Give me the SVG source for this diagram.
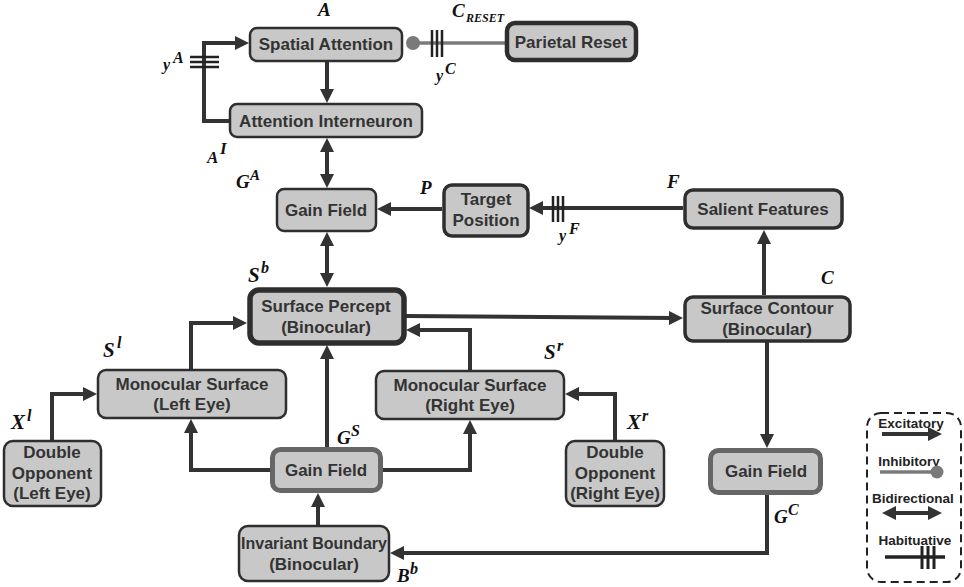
<svg xmlns="http://www.w3.org/2000/svg" width="964" height="587" viewBox="0 0 964 587">
<defs>
<marker id="ah" viewBox="0 0 14 14" refX="6" refY="7" markerWidth="14" markerHeight="14" markerUnits="userSpaceOnUse" orient="auto-start-reverse">
<path d="M0,0 L14,7 L0,14 z" fill="#333"/>
</marker>
<style>
.box{fill:#c8c8c8;stroke:#2e2e2e;stroke-width:2.5}
.b3{stroke-width:3.5}
.b4{stroke-width:4.5}
.b5{stroke-width:5.5}
.gf{fill:#c8c8c8;stroke:#666;stroke-width:5}
.t{font-family:"Liberation Sans",Arial,sans-serif;font-weight:bold;font-size:17px;fill:#333;text-anchor:middle}
.lt{font-family:"Liberation Sans",Arial,sans-serif;font-weight:bold;font-size:13.5px;fill:#222;text-anchor:middle}
.lab{font-family:"Liberation Serif","Times New Roman",serif;font-weight:bold;font-style:italic;font-size:19px;fill:#111}
.c{fill:none;stroke:#333;stroke-width:4}
.ar{marker-end:url(#ah)}
.bi{marker-start:url(#ah);marker-end:url(#ah)}
.hb{stroke:#222;stroke-width:2.5}
.inh{stroke:#7a7a7a;stroke-width:3.5;fill:none}
</style>
</defs>
<rect width="964" height="587" fill="#fff"/>

<g id="connectors">
<path class="c ar" d="M327,62 L327,95"/>
<path class="c ar" d="M229,121 L204,121 L204,43 L241,43"/>
<path class="hb" d="M190,57 L219,57 M190,62 L219,62 M190,67 L219,67"/>
<path class="inh" d="M505,43 L413,43"/>
<circle cx="413" cy="43" r="7" fill="#7a7a7a"/>
<path class="hb" d="M432,30 L432,57 M437,30 L437,57 M442,30 L442,57"/>
<path class="c bi" d="M327,146 L327,180"/>
<path class="c ar" d="M442,209 L385,209"/>
<path class="c ar" d="M683,208 L537,208"/>
<path class="hb" d="M553,196 L553,222 M558,196 L558,222 M563,196 L563,222"/>
<path class="c ar" d="M764,295 L764,238"/>
<path class="c bi" d="M327,240 L327,279"/>
<path class="c ar" d="M406,316 L675,318"/>
<path class="c ar" d="M191,369 L191,323 L239,323"/>
<path class="c ar" d="M470,370 L470,330 L414,330"/>
<path class="c ar" d="M52,440 L52,394 L89,394"/>
<path class="c ar" d="M615,440 L615,394 L573,394"/>
<path class="c ar" d="M270,470 L191,470 L191,427"/>
<path class="c ar" d="M383,470 L470,470 L470,428"/>
<path class="c ar" d="M327,447 L327,353"/>
<path class="c ar" d="M318,525 L318,501"/>
<path class="c ar" d="M767,342 L767,440"/>
<path class="c ar" d="M767,495 L767,553 L398,553"/>
</g>

<g id="spatial-attention">
<rect class="box" x="250" y="28" width="152" height="33" rx="7"/>
<text class="t" x="326" y="50">Spatial Attention</text>
</g>
<g id="parietal-reset">
<rect class="box b4" x="507" y="23" width="129" height="37" rx="8"/>
<text class="t" x="571" y="48">Parietal Reset</text>
</g>
<g id="attention-interneuron">
<rect class="box" x="230" y="104" width="192" height="33" rx="7"/>
<text class="t" x="326" y="127">Attention Interneuron</text>
</g>
<g id="gain-field-a">
<rect class="box" x="277" y="189" width="99" height="42" rx="7"/>
<text class="t" x="326" y="216">Gain Field</text>
</g>
<g id="target-position">
<rect class="box b3" x="444" y="185" width="84" height="51" rx="8"/>
<text class="t" x="486" y="205">Target</text>
<text class="t" x="486" y="226">Position</text>
</g>
<g id="salient-features">
<rect class="box b3" x="685" y="190" width="157" height="38" rx="8"/>
<text class="t" x="763" y="215">Salient Features</text>
</g>
<g id="surface-percept">
<rect class="box b5" x="250" y="290" width="154" height="53" rx="9"/>
<text class="t" x="326" y="312">Surface Percept</text>
<text class="t" x="326" y="333">(Binocular)</text>
</g>
<g id="surface-contour">
<rect class="box b3" x="685" y="297" width="165" height="44" rx="8"/>
<text class="t" x="767" y="314">Surface Contour</text>
<text class="t" x="767" y="335">(Binocular)</text>
</g>
<g id="monocular-left">
<rect class="box" x="98" y="370" width="188" height="48" rx="8"/>
<text class="t" x="192" y="390">Monocular Surface</text>
<text class="t" x="192" y="410">(Left Eye)</text>
</g>
<g id="monocular-right">
<rect class="box" x="376" y="371" width="188" height="48" rx="8"/>
<text class="t" x="470" y="391">Monocular Surface</text>
<text class="t" x="470" y="411">(Right Eye)</text>
</g>
<g id="double-opponent-left">
<rect class="box" x="4" y="441" width="97" height="65" rx="9"/>
<text class="t" x="52" y="458">Double</text>
<text class="t" x="52" y="479">Opponent</text>
<text class="t" x="52" y="499">(Left Eye)</text>
</g>
<g id="double-opponent-right">
<rect class="box" x="566" y="441" width="98" height="65" rx="9"/>
<text class="t" x="615" y="458">Double</text>
<text class="t" x="615" y="479">Opponent</text>
<text class="t" x="615" y="499">(Right Eye)</text>
</g>
<g id="gain-field-s">
<rect class="gf" x="272.5" y="449.5" width="108" height="41" rx="8"/>
<text class="t" x="326" y="476">Gain Field</text>
</g>
<g id="gain-field-c">
<rect class="gf" x="710.5" y="450.5" width="110" height="42" rx="8"/>
<text class="t" x="766" y="477">Gain Field</text>
</g>
<g id="invariant-boundary">
<rect class="box" x="239" y="526" width="150" height="55" rx="9"/>
<text class="t" x="314" y="549" style="font-size:16px">Invariant Boundary</text>
<text class="t" x="314" y="570">(Binocular)</text>
</g>

<g id="labels">
<text class="lab" x="318" y="16">A</text>
<text class="lab"><tspan x="452" y="17">C</tspan><tspan x="466" y="22" style="font-size:12px">RESET</tspan></text>
<text class="lab"><tspan x="436" y="81" style="font-size:16px">y</tspan><tspan x="445" y="74" style="font-size:16px">C</tspan></text>
<text class="lab"><tspan x="163" y="70" style="font-size:16px">y</tspan><tspan x="173" y="63" style="font-size:16px">A</tspan></text>
<text class="lab"><tspan x="207" y="163" style="font-size:17px">A</tspan><tspan x="220" y="154" style="font-size:17px">I</tspan></text>
<text class="lab"><tspan x="236" y="188">G</tspan><tspan x="250" y="180" style="font-size:15px">A</tspan></text>
<text class="lab" x="420" y="194">P</text>
<text class="lab" x="667" y="188">F</text>
<text class="lab"><tspan x="559" y="241" style="font-size:16px">y</tspan><tspan x="569" y="234" style="font-size:16px">F</tspan></text>
<text class="lab"><tspan x="248" y="282" style="font-size:21px">S</tspan><tspan x="261" y="273" style="font-size:16px">b</tspan></text>
<text class="lab" x="821" y="284">C</text>
<text class="lab"><tspan x="103" y="357" style="font-size:21px">S</tspan><tspan x="117" y="348" style="font-size:16px">l</tspan></text>
<text class="lab"><tspan x="544" y="359" style="font-size:21px">S</tspan><tspan x="557" y="351" style="font-size:16px">r</tspan></text>
<text class="lab"><tspan x="11" y="429" style="font-size:21px">X</tspan><tspan x="27" y="421" style="font-size:16px">l</tspan></text>
<text class="lab"><tspan x="627" y="429" style="font-size:21px">X</tspan><tspan x="642" y="421" style="font-size:16px">r</tspan></text>
<text class="lab"><tspan x="337" y="444">G</tspan><tspan x="351" y="436" style="font-size:16px">S</tspan></text>
<text class="lab"><tspan x="774" y="523">G</tspan><tspan x="788" y="515" style="font-size:16px">C</tspan></text>
<text class="lab"><tspan x="397" y="582">B</tspan><tspan x="410" y="574" style="font-size:16px">b</tspan></text>
</g>

<g id="legend">
<rect x="867" y="413" width="94" height="169" rx="14" fill="none" stroke="#222" stroke-width="2" stroke-dasharray="8,5"/>
<text class="lt" x="911" y="428">Excitatory</text>
<path class="c ar" d="M882,434 L934,434"/>
<text class="lt" x="909" y="466">Inhibitory</text>
<path class="inh" d="M880,472 L937,472"/>
<circle cx="937" cy="472" r="6.5" fill="#7a7a7a"/>
<text class="lt" x="913" y="503">Bidirectional</text>
<path class="c bi" d="M890,513 L934,513"/>
<text class="lt" x="915" y="545">Habituative</text>
<path d="M885,557 L945,557" stroke="#222" stroke-width="3.5"/>
<path class="hb" d="M922,546 L922,569 M928,546 L928,569 M934,546 L934,569" style="stroke-width:3"/>
</g>
</svg>
